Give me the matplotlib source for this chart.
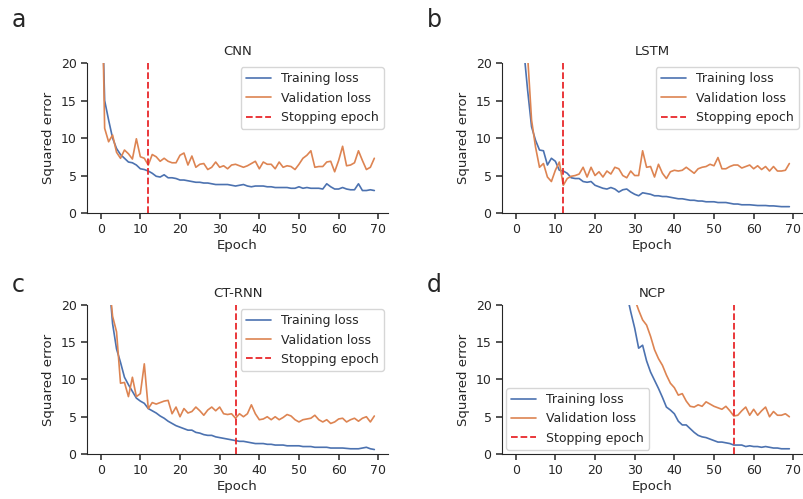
import numpy as np
import matplotlib
matplotlib.use("Agg")
import matplotlib.pyplot as plt
import seaborn as sns

sns.set_style("ticks")
plt.rcParams['font.family'] = ['DejaVu Sans']

epochs = np.arange(70)

# CNN
cnn_train = [35, 15.0, 12.4, 10.0, 8.6, 7.8, 7.3, 6.8, 6.7, 6.4,
             5.9, 5.8, 5.6, 5.3, 4.9, 4.8, 5.1, 4.7, 4.7, 4.6,
             4.4, 4.4, 4.3, 4.2, 4.1, 4.1, 4.0, 4.0, 3.9, 3.8,
             3.8, 3.8, 3.8, 3.7, 3.6, 3.7, 3.8, 3.6, 3.5, 3.6,
             3.6, 3.6, 3.5, 3.5, 3.4, 3.4, 3.4, 3.4, 3.3, 3.3,
             3.5, 3.3, 3.4, 3.3, 3.3, 3.3, 3.2, 3.9, 3.5, 3.2,
             3.2, 3.4, 3.2, 3.1, 3.1, 3.9, 3.0, 3.0, 3.1, 3.0]
cnn_val = [40, 11.3, 9.5, 10.4, 8.1, 7.3, 8.4, 7.9, 7.2, 9.9,
           7.5, 7.3, 6.4, 7.8, 7.5, 6.9, 7.3, 6.9, 6.7, 6.7,
           7.7, 8.0, 6.4, 7.6, 6.1, 6.5, 6.6, 5.8, 6.1, 6.8,
           6.1, 6.3, 5.9, 6.4, 6.5, 6.3, 6.1, 6.3, 6.6, 6.9,
           5.9, 6.8, 6.5, 6.5, 5.9, 6.8, 6.1, 6.3, 6.2, 5.8,
           6.5, 7.3, 7.7, 8.3, 6.1, 6.2, 6.2, 6.8, 6.9, 5.5,
           7.0, 8.9, 6.3, 6.4, 6.7, 8.3, 7.0, 5.8, 6.1, 7.3]

# LSTM
lstm_train = [45, 32, 22, 16.4, 11.5, 9.7, 8.4, 8.3, 6.4, 7.3,
              6.9, 5.7, 5.6, 5.3, 4.7, 4.6, 4.6, 4.2, 4.1, 4.2,
              3.7, 3.5, 3.3, 3.2, 3.4, 3.2, 2.8, 3.1, 3.2, 2.8,
              2.5, 2.3, 2.7, 2.6, 2.5, 2.3, 2.3, 2.2, 2.2, 2.1,
              2.0, 1.9, 1.9, 1.8, 1.7, 1.7, 1.6, 1.6, 1.5, 1.5,
              1.5, 1.4, 1.4, 1.4, 1.3, 1.2, 1.2, 1.1, 1.1, 1.1,
              1.05, 1.0, 1.0, 1.0, 0.95, 0.95, 0.9, 0.85, 0.85, 0.85]
lstm_val = [48, 35, 26, 21, 12.4, 8.8, 6.1, 6.6, 4.8, 4.2,
            5.7, 6.8, 3.7, 4.6, 4.9, 5.0, 5.2, 6.1, 4.8, 6.1,
            5.0, 5.5, 4.8, 5.6, 5.2, 6.1, 5.9, 5.0, 4.7, 5.6,
            5.0, 5.0, 8.3, 6.1, 6.2, 4.8, 6.5, 5.3, 4.6, 5.5,
            5.7, 5.6, 5.7, 6.1, 5.7, 5.3, 5.9, 6.1, 6.2, 6.5,
            6.3, 7.4, 5.9, 5.9, 6.2, 6.4, 6.4, 6.0, 6.2, 6.4,
            5.9, 6.3, 5.8, 6.2, 5.6, 6.2, 5.6, 5.6, 5.7, 6.6]

# CT-RNN
ctrnn_train = [40, 30, 24, 17.5, 14.1, 12.3, 10.3, 9.3, 8.4, 7.5,
               7.1, 6.8, 6.1, 5.8, 5.5, 5.1, 4.8, 4.4, 4.1, 3.8,
               3.6, 3.4, 3.2, 3.2, 2.9, 2.8, 2.6, 2.5, 2.5, 2.3,
               2.2, 2.1, 2.0, 1.9, 1.8, 1.7, 1.7, 1.6, 1.5, 1.4,
               1.4, 1.4, 1.3, 1.3, 1.2, 1.2, 1.2, 1.1, 1.1, 1.1,
               1.1, 1.0, 1.0, 1.0, 0.9, 0.9, 0.9, 0.9, 0.8, 0.8,
               0.8, 0.8, 0.75, 0.7, 0.7, 0.7, 0.8, 0.9, 0.7, 0.6]
ctrnn_val = [42, 32, 24, 18.5, 16.4, 9.5, 9.6, 7.7, 10.3, 7.7,
             8.1, 12.1, 6.1, 6.9, 6.7, 6.9, 7.1, 7.2, 5.4, 6.3,
             5.0, 6.1, 5.5, 5.7, 6.3, 5.8, 5.2, 5.9, 6.3, 5.8,
             6.3, 5.4, 5.3, 5.4, 4.8, 5.4, 5.0, 5.4, 6.6, 5.4,
             4.6, 4.7, 5.0, 4.6, 5.0, 4.6, 4.9, 5.3, 5.1, 4.6,
             4.3, 4.6, 4.7, 4.8, 5.2, 4.6, 4.3, 4.6, 4.1, 4.3,
             4.7, 4.8, 4.3, 4.6, 4.8, 4.4, 4.8, 5.0, 4.3, 5.1]

# NCP
ncp_train = [95, 88, 82, 77, 72, 68, 64, 60, 57, 54,
             51, 48, 46, 44, 42, 40, 38, 36.5, 35, 33.5,
             32, 30.5, 29, 27.8, 26.6, 25.4, 24.2, 23, 21.5, 19.1,
             16.9, 14.2, 14.6, 12.5, 11.0, 9.9, 8.8, 7.6, 6.3, 5.9,
             5.4, 4.4, 3.9, 3.9, 3.4, 2.9, 2.5, 2.3, 2.2, 2.0,
             1.8, 1.6, 1.6, 1.5, 1.4, 1.2, 1.2, 1.2, 1.0, 1.1,
             1.0, 1.0, 0.9, 1.0, 0.9, 0.8, 0.8, 0.7, 0.7, 0.7]
ncp_val = [99, 93, 88, 83, 78, 74, 70, 66, 63, 60,
           57, 54, 51, 49, 47, 45, 43, 41, 39.5, 38,
           36.5, 35, 33.5, 32, 30.5, 29, 27.5, 26, 24.5, 22.5,
           20.8, 19.3, 18.0, 17.3, 15.8, 14.0, 12.8, 11.9, 10.6, 9.5,
           8.9, 7.9, 8.1, 7.1, 6.4, 6.3, 6.6, 6.4, 7.0, 6.7,
           6.4, 6.2, 6.0, 6.4, 5.8, 5.1, 5.2, 5.8, 6.3, 5.2,
           6.0, 5.2, 5.8, 6.3, 5.0, 5.7, 5.2, 5.2, 5.4, 5.0]

titles = ['CNN', 'LSTM', 'CT-RNN', 'NCP']
letters = ['a', 'b', 'c', 'd']
stops = [12, 12, 34, 55]
legend_locs = ['upper right', 'upper right', 'upper right', 'lower left']
train_all = [cnn_train, lstm_train, ctrnn_train, ncp_train]
val_all = [cnn_val, lstm_val, ctrnn_val, ncp_val]

blue = '#4C72B0'
orange = '#DD8452'
red = '#E8282B'

fig = plt.figure(figsize=(8.04, 4.99), dpi=100)
rects = [[0.1082, 0.5731, 0.3744, 0.3006],
         [0.6244, 0.5731, 0.3744, 0.3006],
         [0.1082, 0.0902, 0.3744, 0.2986],
         [0.6244, 0.0902, 0.3744, 0.2986]]
letter_pos = [(0.014, 0.945), (0.531, 0.945), (0.014, 0.415), (0.531, 0.415)]

for i in range(4):
    ax = fig.add_axes(rects[i])
    ax.plot(epochs, train_all[i], color=blue, lw=1.2, label='Training loss')
    ax.plot(epochs, val_all[i], color=orange, lw=1.2, label='Validation loss')
    ax.axvline(stops[i], color=red, ls='--', lw=1.3, label='Stopping epoch')
    ax.set_ylim(0, 20)
    ax.set_yticks([0, 5, 10, 15, 20])
    ax.set_xticks(range(0, 71, 10))
    ax.tick_params(labelsize=9, colors='.15', length=4, width=1.1)
    ax.set_title(titles[i], fontsize=9.5, color='.15')
    ax.set_xlabel('Epoch', fontsize=9.5, color='.15', labelpad=2)
    ax.set_ylabel('Squared error', fontsize=9.5, color='.15')
    ax.legend(loc=legend_locs[i], fontsize=9, borderaxespad=0.35)
    sns.despine(ax=ax)
    fig.text(letter_pos[i][0], letter_pos[i][1], letters[i], fontsize=17)

fig.savefig('out.png', dpi=100)
